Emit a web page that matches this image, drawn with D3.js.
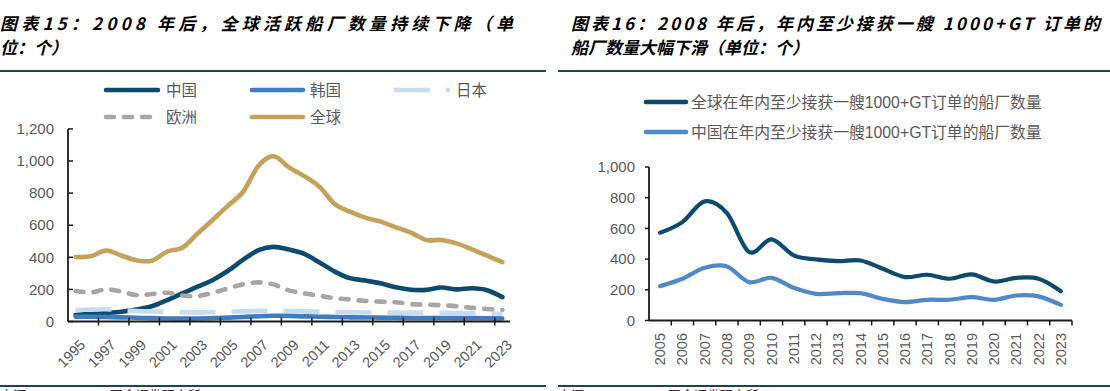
<!DOCTYPE html>
<html><head><meta charset="utf-8">
<script src="https://cdn.jsdelivr.net/npm/d3@7"></script>
<style>body{margin:0;background:#fff}svg{display:block}</style>
</head><body>
<svg id="c" width="1110" height="391"></svg>
<script>
// ---------- data ----------
const leftYears = ["1995","1996","1997","1998","1999","2000","2001","2002","2003","2004","2005","2006","2007","2008","2009","2010","2011","2012","2013","2014","2015","2016","2017","2018","2019","2020","2021","2022","2023"];
const leftYTicks = [0,200,400,600,800,1000,1200];
const chinaL  = [40,47,53,61,74,95,133,175,217,259,316,385,444,465,448,421,368,311,270,255,238,213,198,197,212,200,207,195,152];
const koreaL  = [30,30,28,26,23,21,19,18,19,21,24,28,33,36,35,32,30,28,26,25,24,23,22,22,22,21,21,20,19];
const japanL  = [72,74,76,70,65,62,60,58,57,58,60,64,66,66,65,63,60,58,57,56,56,55,55,55,54,53,52,50,48];
const europeL = [190,181,200,187,164,171,179,162,158,179,206,232,244,230,194,175,160,145,137,128,124,120,109,105,101,95,85,78,72];
const globalL = [402,406,442,411,381,379,436,459,548,634,722,810,970,1030,960,906,840,732,684,647,622,587,553,508,508,487,450,410,370];
const leftNames = ["中国","韩国","日本","欧洲","全球"];

const rightYears = ["2005","2006","2007","2008","2009","2010","2011","2012","2013","2014","2015","2016","2017","2018","2019","2020","2021","2022","2023"];
const rightYTicks = [0,200,400,600,800,1000];
const globalR = [572,641,776,700,446,528,424,398,387,391,337,283,298,272,300,254,278,272,191];
const chinaR  = [224,272,343,352,250,278,213,174,178,178,141,120,135,135,152,135,163,157,102];
const rightNames = ["全球在年内至少接获一艘1000+GT订单的船厂数量","中国在年内至少接获一艘1000+GT订单的船厂数量"];

const title1 = ["图表15：2008 年后，全球活跃船厂数量持续下降（单","位：个）"];
const title2 = ["图表16：2008 年后，年内至少接获一艘 1000+GT 订单的","船厂数量大幅下滑（单位：个）"];
const source = "来源：Clarksons，国金证券研究所";

// ---------- style ----------
const C = {navy:"#0c4a6e", korea:"#3d7cc0", japan:"#c6dcef", europe:"#a6a6a6", gold:"#c5a25c", chinaR:"#4f89c8", rule:"#17465a", axis:"#1a1a1a", label:"#595959"};
const FONT = "'Liberation Sans','Noto Sans CJK SC',Arial,sans-serif";
const TFONT = "'Noto Sans CJK SC','Liberation Sans',sans-serif";

const svg = d3.select("#c");
svg.append("rect").attr("width",1110).attr("height",391).attr("fill","#fff");

// ---------- titles & rules ----------
function title(lines, x, w1){
  lines.forEach((t,i)=>{
    const el = svg.append("text").attr("x",x).attr("y",30+i*23.5)
      .attr("font-family",TFONT).attr("font-size",17).attr("font-weight","bold")
      .attr("font-style","italic").attr("fill","#000").text(t);
    if(i===0) el.attr("textLength",w1).attr("lengthAdjust","spacing");
  });
}
title(title1, 0, 513);
title(title2, 571, 529);
[[0,546],[558,1110]].forEach(([a,b])=>{
  svg.append("line").attr("x1",a).attr("x2",b).attr("y1",71).attr("y2",71).attr("stroke",C.rule).attr("stroke-width",2.2);
  svg.append("line").attr("x1",a).attr("x2",b).attr("y1",386).attr("y2",386).attr("stroke",C.rule).attr("stroke-width",2.2);
});
svg.append("text").attr("x",0).attr("y",400).attr("font-family",FONT).attr("font-size",13).attr("fill","#333").text(source);
svg.append("text").attr("x",558).attr("y",400).attr("font-family",FONT).attr("font-size",13).attr("fill","#333").text(source);

const curve = d3.curveCardinal.tension(0);

// ---------- left chart ----------
{
  const x = d3.scaleBand().domain(leftYears).range([68,510]);
  const y = d3.scaleLinear().domain([0,1200]).range([321.5,128.9]);
  const cx = d => x(d)+x.bandwidth()/2;
  const g = svg.append("g");

  g.append("line").attr("x1",68).attr("x2",68).attr("y1",y(1200)).attr("y2",y(0)).attr("stroke",C.axis).attr("stroke-width",1.8);
  leftYTicks.forEach(t=>{
    g.append("line").attr("x1",68).attr("x2",73).attr("y1",y(t)).attr("y2",y(t)).attr("stroke",C.axis).attr("stroke-width",1.5);
    g.append("text").attr("x",54).attr("y",y(t)).attr("dy","0.35em").attr("text-anchor","end")
      .attr("font-family",FONT).attr("font-size",15).attr("fill",C.label).text(d3.format(",")(t));
  });

  const series = [
    {v:chinaL, c:C.navy, dash:null},
    {v:koreaL, c:C.korea, dash:null},
    {v:japanL, c:C.japan, dash:"36,16", cap:"butt"},
    {v:europeL, c:C.europe, dash:"8,10", cap:"round"},
    {v:globalL, c:C.gold, dash:null}
  ];
  series.forEach(s=>{
    const line = d3.line().x((d,i)=>cx(leftYears[i])).y(d=>y(d)).curve(curve);
    g.append("path").attr("d",line(s.v)).attr("fill","none").attr("stroke",s.c).attr("stroke-width",4.6)
      .attr("stroke-linecap",s.cap||"round").attr("stroke-linejoin","round")
      .attr("stroke-dasharray",s.dash);
  });

  g.append("line").attr("x1",68).attr("x2",510).attr("y1",y(0)).attr("y2",y(0)).attr("stroke",C.axis).attr("stroke-width",1.8);
  leftYears.forEach((d,i)=>{
    if(i%2===0 && i>0){
      g.append("line").attr("x1",x(d)).attr("x2",x(d)).attr("y1",y(0)-4).attr("y2",y(0)+4).attr("stroke",C.axis).attr("stroke-width",1.5);
    }
    if(i%2===0){
      g.append("text").attr("transform",`translate(${cx(d)+3},${338}) rotate(-45)`)
        .attr("dy","0.75em").attr("text-anchor","end")
        .attr("font-family",FONT).attr("font-size",14.5).attr("fill",C.label).text(d);
    }
  });

  const leg = [
    {n:leftNames[0], c:C.navy, x1:106, x2:158, ty:90, tx:166},
    {n:leftNames[1], c:C.korea, x1:252, x2:303, ty:90, tx:310},
    {n:leftNames[2], c:C.japan, x1:394, x2:450, ty:90, tx:456, dash:"36,16", cap:"butt"},
    {n:leftNames[3], c:C.europe, x1:106, x2:155, ty:117, tx:166, dash:"8,10"},
    {n:leftNames[4], c:C.gold, x1:252, x2:303, ty:117, tx:310}
  ];
  leg.forEach(l=>{
    g.append("line").attr("x1",l.x1).attr("x2",l.x2).attr("y1",l.ty).attr("y2",l.ty)
      .attr("stroke",l.c).attr("stroke-width",4.6).attr("stroke-linecap",l.cap||"round").attr("stroke-dasharray",l.dash||null);
    g.append("text").attr("x",l.tx).attr("y",l.ty).attr("dy","0.36em")
      .attr("font-family",FONT).attr("font-size",15.5).attr("fill",C.label).text(l.n);
  });
}

// ---------- right chart ----------
{
  const x = d3.scaleBand().domain(rightYears).range([649,1072]);
  const y = d3.scaleLinear().domain([0,1000]).range([320.5,167]);
  const cx = d => x(d)+x.bandwidth()/2;
  const g = svg.append("g");

  g.append("line").attr("x1",649).attr("x2",649).attr("y1",y(1000)).attr("y2",y(0)).attr("stroke",C.axis).attr("stroke-width",1.8);
  rightYTicks.forEach(t=>{
    g.append("line").attr("x1",645).attr("x2",649).attr("y1",y(t)).attr("y2",y(t)).attr("stroke",C.axis).attr("stroke-width",1.5);
    g.append("text").attr("x",635).attr("y",y(t)).attr("dy","0.35em").attr("text-anchor","end")
      .attr("font-family",FONT).attr("font-size",15).attr("fill",C.label).text(d3.format(",")(t));
  });

  [{v:chinaR,c:C.chinaR},{v:globalR,c:C.navy}].forEach(s=>{
    const line = d3.line().x((d,i)=>cx(rightYears[i])).y(d=>y(d)).curve(curve);
    g.append("path").attr("d",line(s.v)).attr("fill","none").attr("stroke",s.c).attr("stroke-width",4.2)
      .attr("stroke-linecap","round").attr("stroke-linejoin","round");
  });

  g.append("line").attr("x1",649).attr("x2",1072).attr("y1",y(0)).attr("y2",y(0)).attr("stroke",C.axis).attr("stroke-width",1.8);
  rightYears.forEach((d,i)=>{
    g.append("line").attr("x1",x(d)+x.bandwidth()).attr("x2",x(d)+x.bandwidth()).attr("y1",y(0)).attr("y2",y(0)+5).attr("stroke",C.axis).attr("stroke-width",1.5);
    g.append("text").attr("transform",`translate(${cx(d)},${333}) rotate(-90)`)
      .attr("dy","0.35em").attr("text-anchor","end")
      .attr("font-family",FONT).attr("font-size",14.5).attr("fill",C.label).text(d);
  });

  [{n:rightNames[0],c:C.navy,ty:102},{n:rightNames[1],c:C.chinaR,ty:132}].forEach(l=>{
    g.append("line").attr("x1",646).attr("x2",686).attr("y1",l.ty).attr("y2",l.ty)
      .attr("stroke",l.c).attr("stroke-width",4.6).attr("stroke-linecap","round");
    g.append("text").attr("x",691).attr("y",l.ty).attr("dy","0.36em")
      .attr("font-family",FONT).attr("font-size",15.8).attr("fill",C.label).text(l.n);
  });
}
</script>
</body></html>
